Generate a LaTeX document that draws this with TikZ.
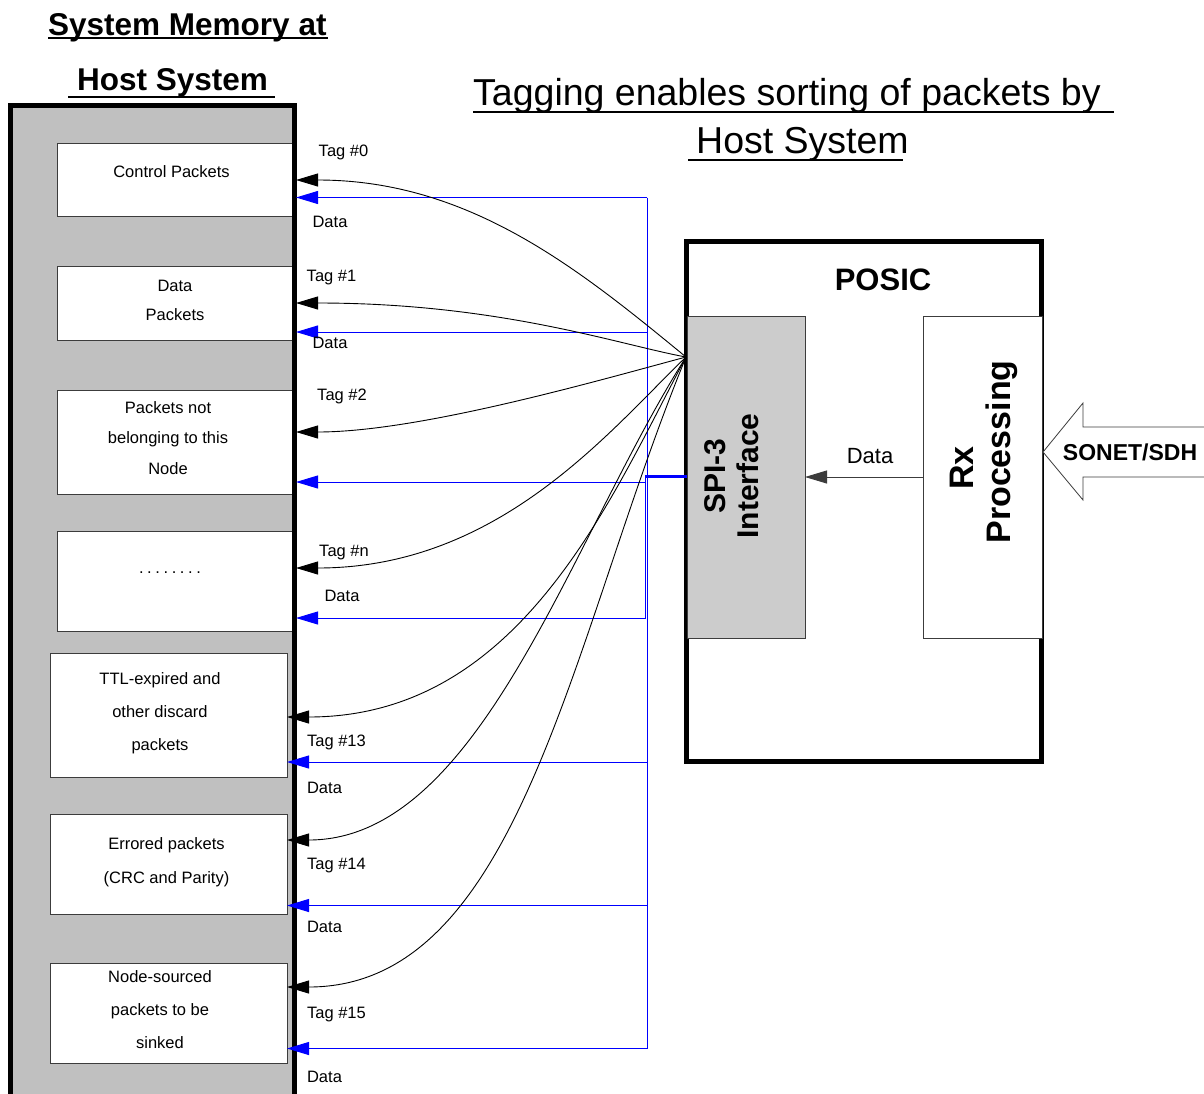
\documentclass[tikz,border=0pt]{standalone}
\usepackage{fontspec}
\setmainfont{Liberation Sans}
\usetikzlibrary{arrows.meta}
\definecolor{hostgray}{RGB}{192,192,192}
\definecolor{spigray}{RGB}{204,204,204}
\definecolor{boxline}{RGB}{60,60,60}
\newcommand\dotrow{.\kern3.6pt.\kern3.6pt.\kern3.6pt.\kern3.6pt.\kern3.6pt.\kern3.6pt.\kern3.6pt.}
\begin{document}
\begin{tikzpicture}[x=1pt,y=-1pt,
  membox/.style={draw=boxline, fill=white, line width=1pt, inner sep=0pt, outer sep=0pt, anchor=north west},
  lbl/.style={font=\fontsize{16.5}{20}\selectfont, inner sep=0pt},
  boxtxt/.style={align=center, inner sep=0pt},
  tagarrow/.style={draw=black, line width=0.9pt, -{Triangle[length=22pt,width=13pt]}},
  dataarrow/.style={draw=blue, line width=1pt, -{Triangle[length=22pt,width=13pt]}},
  busline/.style={draw=blue, line width=1pt},
  bigtitle/.style={font=\fontsize{37.5}{45}\selectfont, anchor=base west, inner sep=0pt},
  hosttitle/.style={font=\fontsize{31.5}{38}\selectfont\bfseries, anchor=base west, inner sep=0pt},
  thickbox/.style={draw=black, line width=5pt, inner sep=0pt, outer sep=0pt, anchor=north west},
]
\useasboundingbox (0,0) rectangle (1204,1093);
\clip (0,0) rectangle (1204,1093);

% ---------- titles ----------
\node[hosttitle] (ht1) at (48,35) {System Memory at};
\node[hosttitle] (ht2) at (77,90) {Host System};
\draw[line width=2pt] (48,37.5) -- (328,37.5);
\draw[line width=2pt] (68,96.5) -- (275,96.5);

\node[bigtitle] (mt1) at (473,105) {Tagging enables sorting of packets by};
\node[bigtitle] (mt2) at (696,153) {Host System};
\draw[line width=1.6pt] (473,112) -- (1114,112);
\draw[line width=1.6pt] (688,160) -- (903,160);

% ---------- host system memory ----------
\node[thickbox, fill=hostgray, minimum width=284pt, minimum height=1040pt] (host) at (10.5,105.5) {};

\node[membox, minimum width=237pt, minimum height=73pt]  (ctrl)    at (57,143) {};
\node[membox, minimum width=237pt, minimum height=74pt]  (datap)   at (57,266) {};
\node[membox, minimum width=237pt, minimum height=104pt] (notnode) at (57,390) {};
\node[membox, minimum width=237pt, minimum height=100pt] (dots)    at (57,531) {};
\node[membox, minimum width=237pt, minimum height=124pt] (ttl)     at (50,653) {};
\node[membox, minimum width=237pt, minimum height=100pt] (err)     at (50,814) {};
\node[membox, minimum width=237pt, minimum height=100pt] (nsrc)    at (50,963) {};

\draw[line width=5pt] (host.north east) -- (host.south east);

\node[lbl] (lctrl) at (171.5,172) {Control Packets};
\node[lbl, boxtxt, font=\fontsize{16.5}{29}\selectfont] (ldata) at (175,300) {Data\\Packets};
\node[lbl, boxtxt, font=\fontsize{16.5}{30.5}\selectfont] (lnot) at (168,438) {Packets not\\belonging to this\\Node};
\node[lbl] (ldots) at (170,573) {\dotrow};
\node[lbl, boxtxt, font=\fontsize{16.5}{33}\selectfont] (lttl) at (160,713) {TTL-expired and\\other discard\\packets};
\node[lbl, boxtxt, font=\fontsize{16.5}{34}\selectfont] (lerr) at (166.5,862) {Errored packets\\(CRC and Parity)};
\node[lbl, boxtxt, font=\fontsize{16.5}{33}\selectfont] (lsrc) at (160,1010) {Node-sourced\\packets to be\\sinked};

% ---------- POSIC ----------
\node[thickbox, fill=white, minimum width=355pt, minimum height=520pt] (posic) at (686.5,241.5) {};
\node[draw=boxline, fill=spigray, line width=1pt, inner sep=0pt, outer sep=0pt, anchor=north west,
      minimum width=118pt, minimum height=322pt] (spi) at (687,316) {};
\node[draw=boxline, fill=white, line width=1pt, inner sep=0pt, outer sep=0pt, anchor=north west,
      minimum width=119pt, minimum height=322pt] (rx) at (923,316) {};

\node[font=\fontsize{31}{37}\selectfont\bfseries, anchor=base, inner sep=0pt] (posict) at (883,290) {POSIC};
\node[rotate=90, align=center, font=\fontsize{30}{33}\selectfont\bfseries, inner sep=0pt] (spit) at (731.5,476) {SPI-3\\Interface};
\node[rotate=90, font=\fontsize{34}{40}\selectfont\bfseries, inner sep=0pt] (rxt1) at (962,468) {Rx};
\node[rotate=90, font=\fontsize{34}{40}\selectfont\bfseries, inner sep=0pt] (rxt2) at (1002,452) {Processing};
\node[font=\fontsize{22}{26}\selectfont, anchor=base, inner sep=0pt] (rxdata) at (870,463) {Data};

\draw[draw=boxline, line width=0.9pt, -{Triangle[length=22pt,width=13pt]}] (rx.west |- 0,477) -- (spi.east |- 0,477);

% SONET/SDH input arrow
\draw[draw=boxline, fill=white, line width=0.8pt] (1043,452) -- (1083,403) -- (1083,427) -- (1225,427)
  -- (1225,477) -- (1083,477) -- (1083,500) -- cycle;
\node[font=\fontsize{23}{27}\selectfont\bfseries, anchor=base, inner sep=0pt] (sonet) at (1130,460) {SONET/SDH};

% ---------- coordinates ----------
\coordinate (fan) at (686,357);
\coordinate (t0) at (296,180);
\coordinate (t1) at (296,303);
\coordinate (t2) at (296,432);
\coordinate (tn) at (296,568);
\coordinate (t13) at (287,717);
\coordinate (t14) at (287,840);
\coordinate (t15) at (287,987);

\coordinate (d0) at (296,197.5);
\coordinate (d1) at (296,332);
\coordinate (d2) at (296,482);
\coordinate (dn) at (296,618);
\coordinate (d13) at (287,762);
\coordinate (d14) at (287,905.5);
\coordinate (d15) at (287,1048.5);

\coordinate (busTop) at (647,197.5);
\coordinate (busBot) at (647,1048.5);
\coordinate (spiBus) at (645,476.5);

% ---------- blue data paths ----------
\draw[blue, line width=3pt] (spi.west |- spiBus) -- (spiBus);
\draw[busline] (busTop) -- (busBot);
\draw[dataarrow] (busTop) -- (d0);
\draw[dataarrow] (busTop |- d1) -- (d1);
\draw[dataarrow] (spiBus |- d2) -- (d2);
\draw[dataarrow] (spiBus) -- (spiBus |- dn) -- (dn);
\draw[dataarrow] (busTop |- d13) -- (d13);
\draw[dataarrow] (busTop |- d14) -- (d14);
\draw[dataarrow] (busBot) -- (d15);

% ---------- black tag paths ----------
\draw[tagarrow] (fan) .. controls (580,270) and (470,180) .. (t0);
\draw[tagarrow] (fan) .. controls (620,345) and (500,303) .. (t1);
\draw[tagarrow] (fan) .. controls (600,380) and (420,432) .. (t2);
\draw[tagarrow] (fan) .. controls (610,430) and (500,568) .. (tn);
\draw[tagarrow] (fan) .. controls (610,500) and (520,717) .. (t13);
\draw[tagarrow] (fan) .. controls (570,540) and (480,840) .. (t14);
\draw[tagarrow] (fan) .. controls (570,640) and (520,987) .. (t15);

% ---------- labels ----------
\node[lbl] (lt0)  at (343.5,152) {Tag \#0};
\node[lbl] (ld0)  at (330,222)   {Data};
\node[lbl] (lt1)  at (331.5,278) {Tag \#1};
\node[lbl] (ld1)  at (330,343)   {Data};
\node[lbl] (lt2)  at (342,396)   {Tag \#2};
\node[lbl] (ltn)  at (344,553)   {Tag \#n};
\node[lbl] (ldn)  at (342,596)   {Data};
\node[lbl] (lt13) at (336.5,742) {Tag \#13};
\node[lbl] (ld13) at (324.5,788) {Data};
\node[lbl] (lt14) at (336.5,866) {Tag \#14};
\node[lbl] (ld14) at (324.5,927) {Data};
\node[lbl] (lt15) at (336.5,1015) {Tag \#15};
\node[lbl] (ld15) at (324.5,1077) {Data};
\end{tikzpicture}
\end{document}
